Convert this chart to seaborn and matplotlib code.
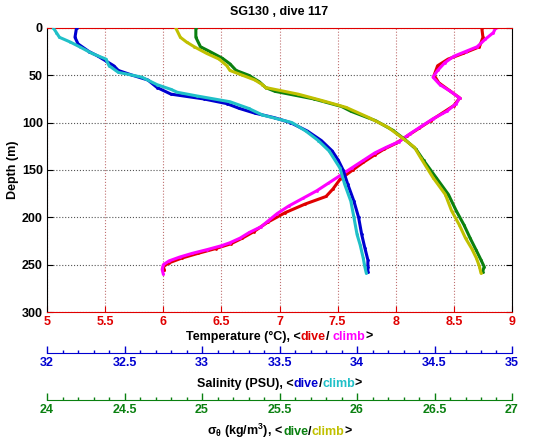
import numpy as np
import matplotlib
matplotlib.use("Agg")
import matplotlib.pyplot as plt
import seaborn as sns
from matplotlib.ticker import MultipleLocator, FormatStrFormatter
from matplotlib.offsetbox import TextArea, HPacker, AnnotationBbox

# profile values (depth in m)
temp_dive_depth = [0, 10, 20, 27, 33, 40, 50, 58, 66, 74, 82, 90, 98, 106, 114, 122, 128, 134,
                   142, 150, 160, 170, 178, 186, 195, 205, 215, 222, 228, 233, 238, 243, 248, 252, 256]
temp_dive = [8.74, 8.75, 8.72, 8.58, 8.45, 8.36, 8.33, 8.37, 8.46, 8.55, 8.50, 8.40, 8.30, 8.20,
             8.10, 8.00, 7.90, 7.82, 7.72, 7.63, 7.52, 7.46, 7.40, 7.22, 7.05, 6.90, 6.78, 6.68,
             6.58, 6.45, 6.30, 6.16, 6.05, 6.00, 6.01]

temp_climb_depth = [0, 5, 12, 20, 25, 30, 37, 45, 52, 60, 67, 74, 80, 88, 96, 104, 112, 120, 126,
                    132, 140, 148, 156, 164, 172, 180, 188, 196, 204, 210, 216, 222, 227, 230, 234,
                    238, 242, 246, 250, 255, 260]
temp_climb = [8.86, 8.84, 8.77, 8.70, 8.60, 8.50, 8.42, 8.36, 8.32, 8.38, 8.47, 8.55, 8.52, 8.44,
              8.32, 8.22, 8.12, 8.03, 7.92, 7.82, 7.72, 7.62, 7.52, 7.42, 7.32, 7.20, 7.08, 6.98,
              6.90, 6.84, 6.74, 6.66, 6.57, 6.50, 6.38, 6.25, 6.14, 6.05, 6.00, 5.99, 6.00]

sal_dive_depth = [0, 10, 17, 25, 30, 35, 40, 45, 50, 55, 63, 70, 75, 80, 85, 90, 95, 100, 109,
                  119, 130, 140, 150, 165, 183, 200, 218, 232, 245, 252, 258]
sal_dive = [32.19, 32.18, 32.20, 32.27, 32.33, 32.38, 32.43, 32.46, 32.55, 32.65, 32.71, 32.80,
            33.01, 33.16, 33.24, 33.34, 33.47, 33.57, 33.68, 33.77, 33.84, 33.88, 33.91, 33.94,
            33.98, 34.01, 34.03, 34.05, 34.07, 34.07, 34.07]

sal_climb_depth = [0, 5, 10, 15, 20, 27, 33, 40, 47, 52, 60, 65, 68, 72, 78, 85, 92, 100, 109,
                   119, 130, 148, 165, 183, 200, 218, 229, 243, 252, 259]
sal_climb = [32.04, 32.06, 32.08, 32.15, 32.21, 32.29, 32.38, 32.40, 32.46, 32.61, 32.71, 32.80,
             32.84, 32.97, 33.18, 33.30, 33.39, 33.58, 33.67, 33.75, 33.82, 33.89, 33.92, 33.96,
             33.98, 34.00, 34.02, 34.04, 34.05, 34.06]

sig_dive_depth = [0, 10, 20, 25, 32, 38, 45, 50, 57, 63, 67, 75, 83, 88, 98, 108, 118, 128, 140,
                  158, 176, 193, 208, 222, 235, 245, 252, 258]
sig_dive = [24.96, 24.96, 24.99, 25.05, 25.13, 25.18, 25.22, 25.30, 25.37, 25.41, 25.47, 25.72,
            25.90, 25.96, 26.12, 26.23, 26.31, 26.38, 26.43, 26.51, 26.59, 26.64, 26.69, 26.73,
            26.77, 26.80, 26.82, 26.81]

sig_climb_depth = [0, 10, 15, 20, 27, 33, 40, 45, 50, 55, 60, 63, 70, 77, 84, 95, 105, 116, 126,
                   137, 158, 176, 193, 208, 222, 233, 243, 252, 259]
sig_climb = [24.83, 24.86, 24.90, 24.95, 25.03, 25.11, 25.16, 25.18, 25.26, 25.34, 25.39, 25.41,
             25.62, 25.78, 25.93, 26.08, 26.20, 26.29, 26.37, 26.41, 26.49, 26.57, 26.61, 26.66,
             26.70, 26.74, 26.77, 26.79, 26.80]

RED, MAG = "#e00000", "#ff00ff"
BLUE, CYAN = "#0000d0", "#20c0c8"
GREEN, OLIVE = "#0a8010", "#c0c000"
FS = 9

sns.set_style("white")
plt.rcParams["font.family"] = ["Liberation Sans", "DejaVu Sans"]
plt.rcParams["font.weight"] = "bold"
plt.rcParams["mathtext.default"] = "regular"
plt.rcParams["text.color"] = "black"
plt.rcParams["axes.labelcolor"] = "black"

fig = plt.figure(figsize=(5.35, 4.42), dpi=100)
L, W = 0.088, 0.869
ax = fig.add_axes([L, 0.294, W, 0.643])

ax.set_xlim(5, 9)
ax.set_ylim(300, 0)
ax.xaxis.set_major_locator(MultipleLocator(0.5))
ax.xaxis.set_major_formatter(FormatStrFormatter("%g"))
ax.yaxis.set_major_locator(MultipleLocator(50))
ax.tick_params(axis="x", colors=RED, direction="in", bottom=True, top=True, length=4,
               labelsize=FS, pad=3)
ax.tick_params(axis="y", colors="black", direction="in", left=True, right=True, length=4,
               labelsize=FS, pad=3)
ax.xaxis.grid(True, color="#c07070", linestyle=":", linewidth=0.8)
ax.yaxis.grid(True, color="#555555", linestyle=":", linewidth=0.8)
for side in ["top", "bottom"]:
    ax.spines[side].set_color(RED)
for side in ["left", "right"]:
    ax.spines[side].set_color("black")
for lab in ax.get_xticklabels() + ax.get_yticklabels():
    lab.set_fontweight("bold")
ax.set_ylabel("Depth (m)", fontsize=FS, fontweight="bold", labelpad=2)
fig.text(L + W / 2, 1 - 12 / 442, "SG130 , dive 117", ha="center", va="center",
         fontsize=FS, fontweight="bold", color="black")


def profile(a, x, y, color):
    sns.lineplot(x=x, y=y, ax=a, color=color, sort=False, estimator=None,
                 lw=2.2, marker=".", markersize=4, markeredgewidth=0)


def twin(lo, hi):
    t = ax.twiny()
    t.set_xlim(lo, hi)
    t.set_ylim(300, 0)
    t.set_axis_off()
    return t


ax_s = twin(32, 35)
ax_d = twin(24, 27)

profile(ax_s, sal_dive, sal_dive_depth, BLUE)
profile(ax_s, sal_climb, sal_climb_depth, CYAN)
profile(ax_d, sig_dive, sig_dive_depth, GREEN)
profile(ax_d, sig_climb, sig_climb_depth, OLIVE)
profile(ax, temp_dive, temp_dive_depth, RED)
profile(ax, temp_climb, temp_climb_depth, MAG)
ax.set_xlabel("")


def scale_axis(y, lo, hi, color):
    a = fig.add_axes([L, y, W, 0.0001])
    a.set_xlim(lo, hi)
    a.set_yticks([])
    for side in ["top", "left", "right"]:
        a.spines[side].set_visible(False)
    a.spines["bottom"].set_color(color)
    a.xaxis.set_major_locator(MultipleLocator(0.5))
    a.xaxis.set_minor_locator(MultipleLocator(0.1))
    a.xaxis.set_major_formatter(FormatStrFormatter("%g"))
    a.tick_params(axis="x", which="major", direction="in", bottom=True, length=5, width=1,
                  colors=color, labelsize=FS, pad=3)
    a.tick_params(axis="x", which="minor", direction="in", bottom=True, length=2.5, width=1,
                  colors=color)
    for lab in a.get_xticklabels():
        lab.set_fontweight("bold")
    return a


scale_axis(0.201, 32, 35, BLUE)
scale_axis(0.095, 24, 27, GREEN)


def color_label(y, parts):
    boxes = [TextArea(t, textprops=dict(color=c, fontsize=FS, fontweight="bold")) for t, c in parts]
    pack = HPacker(children=boxes, sep=0, pad=0, align="baseline")
    ab = AnnotationBbox(pack, (L + W / 2, y), xycoords="figure fraction",
                        frameon=False, box_alignment=(0.5, 0.5))
    fig.add_artist(ab)


color_label(1 - 337 / 442, [("Temperature (°C), <", "black"), ("dive", RED), ("/ ", "black"),
                            ("climb", MAG), (">", "black")])
color_label(1 - 384 / 442, [("Salinity (PSU), <", "black"), ("dive", BLUE), ("/", "black"),
                            ("climb", CYAN), (">", "black")])
color_label(1 - 431 / 442, [(r"$\sigma_\theta$ (kg/m$^3$), <", "black"), ("dive", GREEN),
                            ("/", "black"), ("climb", OLIVE), (">", "black")])

fig.savefig("out.png", dpi=100)
